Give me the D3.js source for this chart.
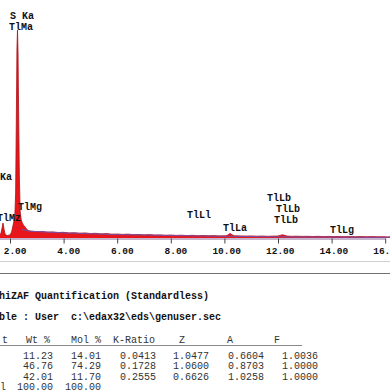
<!DOCTYPE html>
<html><head><meta charset="utf-8">
<script src="https://cdn.jsdelivr.net/npm/d3@7"></script>
<style>
html,body{margin:0;padding:0;background:#fff;}
svg{display:block;}
text{font-family:"Liberation Mono","Courier New",monospace;}
</style></head>
<body><svg id="c" width="390" height="390"></svg>
<script>
// Spectrum: energy (keV) and counts
const energies = [1.30,1.40,1.50,1.60,1.66,1.70,1.74,1.78,1.82,1.90,2.00,2.06,2.10,2.14,2.18,2.21,2.24,2.26,2.28,2.30,2.32,2.35,2.38,2.42,2.46,2.50,2.55,2.60,2.65,2.70,2.80,
 3.0,3.2,3.4,3.6,3.8,4.0,4.2,4.4,4.6,4.8,5.0,5.2,5.4,5.6,5.8,6.0,6.2,6.4,6.6,6.8,7.0,7.2,7.4,7.6,7.8,8.0,8.2,8.4,8.6,8.8,9.0,9.2,9.4,9.6,9.8,10.05,10.13,10.21,10.29,10.37,
 10.6,10.8,11.0,11.2,11.4,11.6,11.8,12.0,12.1,12.18,12.26,12.35,12.5,12.7,12.9,13.1,13.3,13.5,13.7,13.9,14.1,14.3,14.5,14.7,14.9,15.1,15.3,15.5,15.7,15.9,16.1,16.3,16.5,16.7];
const counts = [35,40,32,30,45,95,150,85,35,25,30,60,110,160,220,450,1300,1900,2080,1850,1300,600,260,180,150,130,115,95,82,72,68,
 62,66,58,61,55,57,50,53,48,51,45,47,41,44,38,40,36,39,33,35,31,34,29,31,27,30,26,28,24,27,23,25,22,24,21,22,30,46,32,22,
 21,19,21,18,20,17,19,20,28,32,25,19,17,18,16,17,15,17,14,16,14,15,13,15,13,14,12,14,12,13,11,12,11,12];
// Fitted background
const bgEnergies = [2.45,2.75,3.9,5.9,9.1,12.8,16.7];
const bgCounts = [85,68,52,35,20,10,6];
// Axis ticks
const tickValues = [2,4,6,8,10,12,14,16];
// Peak labels
const peakLabels = ["S Ka","TlMa","Ka","TlMz","TlMg","TlLl","TlLa","TlLb","TlLb","TlLb","TlLg"];
// Quantification table
const titleLines = ["hiZAF Quantification (Standardless)","ble : User  c:\\edax32\\eds\\genuser.sec"];
const headers = ["t","Wt %","Mol %","K-Ratio","Z","A","F"];
const rows = [
 ["","11.23","14.01","0.0413","1.0477","0.6604","1.0036"],
 ["","46.76","74.29","0.1728","1.0600","0.8703","1.0000"],
 ["","42.01","11.70","0.2555","0.6626","1.0258","1.0000"],
 ["l","100.00","100.00","","","",""]
];

const svg = d3.select("#c");
const x = d3.scaleLinear().domain([0,16]).range([-43.6,385.2]);
const y = d3.scaleLinear().domain([0,2080]).range([238,30]);
const spec = energies.map((e,i)=>({e, c:counts[i]}));

svg.append("path").datum(spec)
 .attr("d", d3.area().x(d=>x(d.e)).y0(y(0)).y1(d=>y(d.c)))
 .attr("fill","#e8161a");
svg.append("path").datum(spec)
 .attr("d", d3.line().x(d=>x(d.e)).y(d=>y(d.c)))
 .attr("fill","none").attr("stroke","#b01018").attr("stroke-width",0.8);
svg.append("path").datum(bgEnergies.map((e,i)=>({e,c:bgCounts[i]})))
 .attr("d", d3.line().x(d=>x(d.e)).y(d=>y(d.c)))
 .attr("fill","none").attr("stroke","#7a4fa8").attr("stroke-width",1);

const ax = svg.append("g").attr("transform","translate(0,238.5)")
 .call(d3.axisBottom(x).tickValues(tickValues).tickSize(5).tickSizeOuter(0).tickFormat(d=>d3.format(".2f")(d)));
ax.select(".domain").attr("stroke","#8a6a9a");
ax.selectAll(".tick line").attr("stroke","#444");
ax.selectAll(".tick text").attr("text-anchor","end").attr("x",16).attr("y",9)
 .attr("font-size","9.5px").attr("font-weight","bold").attr("fill","#111")
 .style("font-family","'Liberation Mono','Courier New',monospace");

// peak labels
const lblX = [10,9,0,-3,18,187,223,267,276,274,330];
const baseY = [19,30,180,221,210,218,231,201,212,223,233];
peakLabels.forEach((t,i)=>{
  svg.append("text").attr("x",lblX[i]).attr("y",baseY[i])
   .attr("font-size","10px").attr("font-weight","bold").attr("fill","#111").text(t);
});

// separators
svg.append("line").attr("x1",0).attr("x2",390).attr("y1",261.5).attr("y2",261.5).attr("stroke","#d0d0d0");
svg.append("line").attr("x1",0).attr("x2",390).attr("y1",273.5).attr("y2",273.5).attr("stroke","#707070");

// table
titleLines.forEach((t,i)=>{
  svg.append("text").attr("x",-1).attr("y",[299,320][i]).attr("font-size","10px").attr("font-weight","bold").attr("fill","#111")
   .attr("xml:space","preserve").style("white-space","pre").text(t);
});
const hx = [2,26,71,113,179,227,274];
headers.forEach((h,i)=>{
  svg.append("text").attr("x",hx[i]).attr("y",343).attr("font-size","10px").attr("fill","#333")
   .attr("xml:space","preserve").style("white-space","pre").text(h);
});
svg.append("line").attr("x1",0).attr("x2",302).attr("y1",345.5).attr("y2",345.5).attr("stroke","#888");
const colRight = [6,53,101,156,209,264,318];
const rowY = [359,369,379.5,389.5];
rows.forEach((r,ri)=>{
  r.forEach((v,ci)=>{
    if(!v) return;
    svg.append("text").attr("x",colRight[ci]).attr("y",rowY[ri]).attr("text-anchor","end")
     .attr("font-size","10px").attr("fill","#333").text(v);
  });
});
</script></body></html>
